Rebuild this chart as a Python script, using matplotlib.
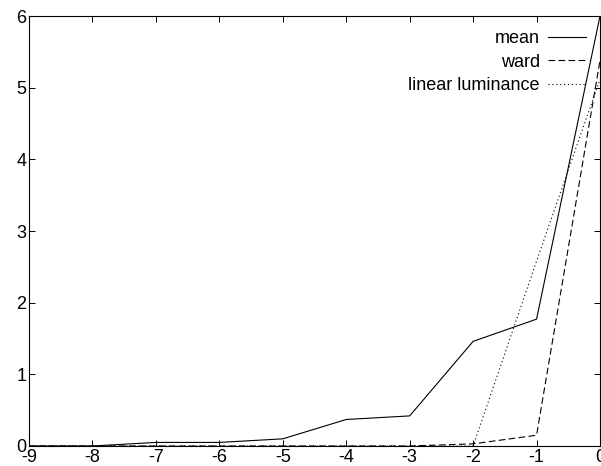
import matplotlib
matplotlib.use('Agg')
import matplotlib.pyplot as plt

plt.rcParams['font.family'] = ['Liberation Sans', 'DejaVu Sans']
plt.rcParams['axes.unicode_minus'] = False

# data
x = [-9, -8, -7, -6, -5, -4, -3, -2, -1, 0]
mean = [0.0, 0.0, 0.05, 0.05, 0.1, 0.37, 0.42, 1.46, 1.77, 6.0]
ward = [0.0, 0.0, 0.0, 0.0, 0.0, 0.0, 0.0, 0.03, 0.15, 5.38]
linear_lum = [0.0, 0.0, 0.0, 0.0, 0.0, 0.0, 0.0, 0.0, 2.58, 5.12]

xticks = list(range(-9, 1))
yticks = list(range(0, 7))

fig = plt.figure(figsize=(6.01, 4.66), dpi=100)
ax = fig.add_axes([29 / 601, 20 / 466, 571 / 601, 430 / 466])

ax.plot(x, mean, color='black', lw=0.8, label='mean')
ax.plot(x, ward, color='black', lw=0.8, dashes=(6, 3), label='ward')
ax.plot(x, linear_lum, color='black', lw=0.8, dashes=(1, 2.5), label='linear luminance')

ax.set_xlim(-9, 0)
ax.set_ylim(0, 6)
ax.set_xticks(xticks)
ax.set_yticks(yticks)
ax.tick_params(direction='in', length=4, width=0.7, top=True, right=True,
               labelsize=13, pad=2)
for s in ax.spines.values():
    s.set_linewidth(0.8)

ax.legend(loc='upper right', frameon=False, markerfirst=False, fontsize=13,
          handlelength=2.1, handletextpad=0.45, labelspacing=0.35,
          borderaxespad=0, borderpad=0, bbox_to_anchor=(0.975, 0.967))

fig.savefig('out.png', dpi=100)
